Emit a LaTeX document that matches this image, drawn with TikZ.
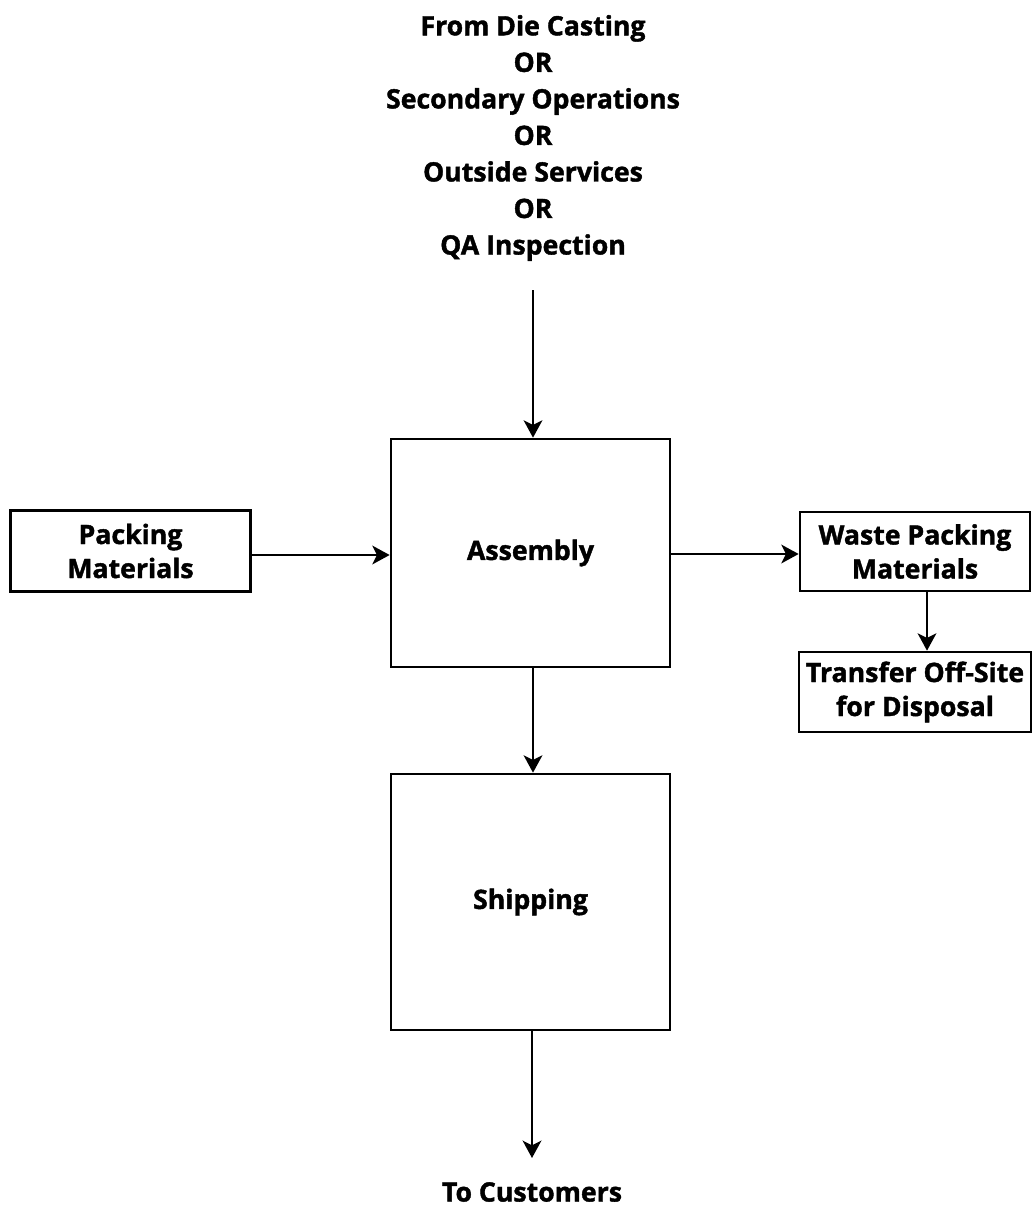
\documentclass[tikz,border=0pt]{standalone}
\usepackage{fontspec}
\setmainfont{Open Sans}[BoldFeatures={FakeBold=1.5}]
\usetikzlibrary{arrows.meta}
\begin{document}
\begin{tikzpicture}[x=0.75pt,y=-0.75pt,
  box/.style={draw=black, line width=2pt, inner sep=0pt, align=center, font=\bfseries\fontsize{20}{25.5}\selectfont},
  lbl/.style={inner sep=0pt, align=center, font=\bfseries\fontsize{20}{27.4}\selectfont},
  arr/.style={line width=2pt, -{Stealth[length=13pt,width=14pt,inset=3.5pt]}}]
\useasboundingbox (0,0) rectangle (1033,1207);
\node[lbl] (src) at (533,138) {From Die Casting\\OR\\Secondary Operations\\OR\\Outside Services\\OR\\QA Inspection};
\coordinate (srcend) at (533,290);
\node[box, minimum width=279*0.75pt, minimum height=228*0.75pt] (asm) at (530.5,553) {Assembly};
\node[box, minimum width=279*0.75pt, minimum height=256*0.75pt] (shp) at (530.5,902) {Shipping};
\node[box, minimum width=240*0.75pt, minimum height=81*0.75pt] (pack) at (130.5,551) {Packing\\Materials};
\node[box, minimum width=230*0.75pt, minimum height=79*0.75pt] (waste) at (915,551.5) {Waste Packing\\Materials};
\node[box, minimum width=232*0.75pt, minimum height=80*0.75pt] (xfer) at (915,692) {Transfer Off-Site\\for Disposal};
\node[lbl] (cust) at (532,1192) {To Customers};
\coordinate (custend) at (532,1158);
\draw[arr] (srcend) -- (asm.north -| srcend);
\draw[arr] (pack.east |- 0,555) -- (asm.west |- 0,555);
\draw[arr] (asm.east |- 0,554) -- (waste.west |- 0,554);
\draw[arr] (waste.south -| 927,0) -- (xfer.north -| 927,0);
\draw[arr] (asm.south -| 533,0) -- (shp.north -| 533,0);
\draw[arr] (shp.south -| custend) -- (custend);
\end{tikzpicture}
\end{document}
